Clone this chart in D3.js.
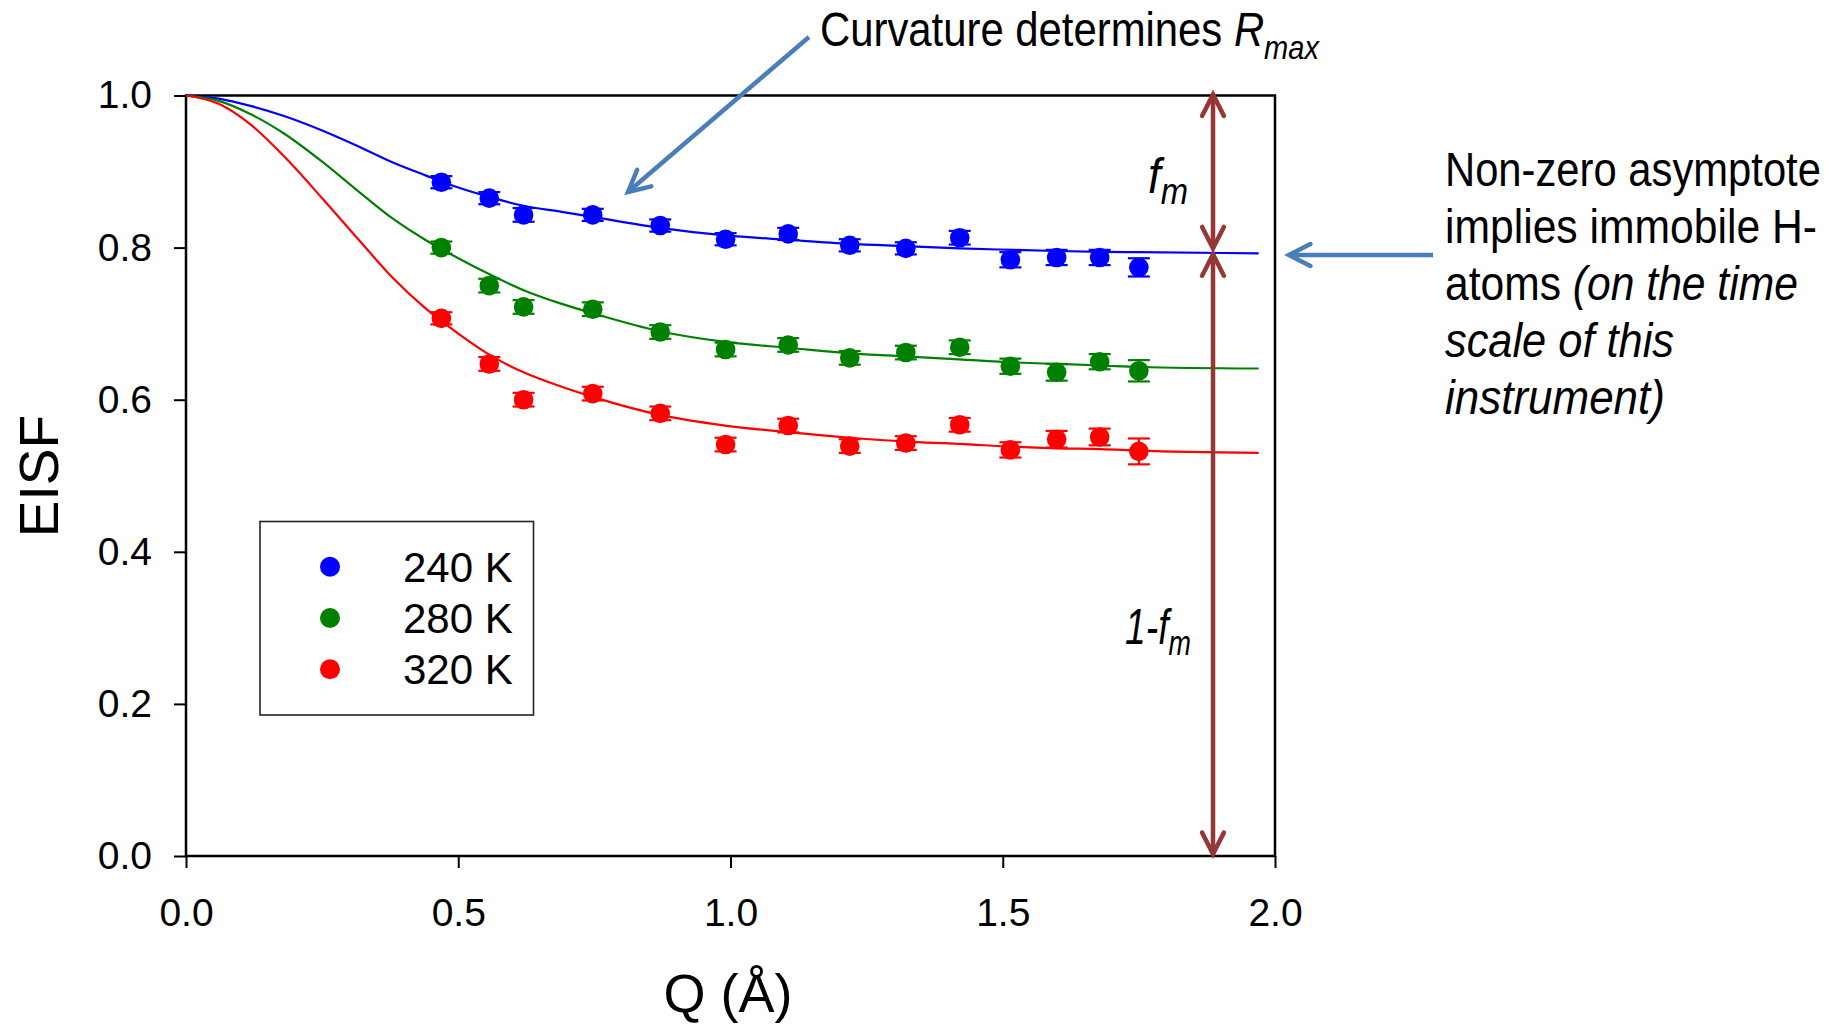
<!DOCTYPE html>
<html><head><meta charset="utf-8">
<script src="https://cdn.jsdelivr.net/npm/d3@7"></script>
<style>
html,body{margin:0;padding:0;background:#fff;}
svg{display:block;font-family:"Liberation Sans",Arial,Helvetica,sans-serif;}
</style>
</head><body>
<svg id="chart" width="1844" height="1026"></svg>
<script>
// ---------- data ----------
const seriesNames  = ["240 K", "280 K", "320 K"];
const seriesColors = ["#0000ff", "#008000", "#ff0000"];

const qValues = [0.469, 0.557, 0.620, 0.747, 0.871, 0.991, 1.106, 1.219, 1.322, 1.421, 1.514, 1.599, 1.678, 1.750];

const eisf240 = [0.886, 0.865, 0.843, 0.843, 0.829, 0.811, 0.818, 0.803, 0.799, 0.813, 0.784, 0.787, 0.787, 0.774];
const eisf280 = [0.800, 0.750, 0.722, 0.719, 0.689, 0.666, 0.672, 0.655, 0.662, 0.669, 0.644, 0.636, 0.650, 0.638];
const eisf320 = [0.707, 0.647, 0.600, 0.608, 0.582, 0.541, 0.566, 0.539, 0.543, 0.567, 0.534, 0.548, 0.551, 0.532];

const err240 = [0.008, 0.008, 0.009, 0.008, 0.008, 0.008, 0.008, 0.008, 0.008, 0.009, 0.010, 0.010, 0.010, 0.012];
const err280 = [0.008, 0.009, 0.009, 0.009, 0.009, 0.009, 0.009, 0.009, 0.009, 0.009, 0.010, 0.011, 0.010, 0.014];
const err320 = [0.008, 0.009, 0.009, 0.009, 0.009, 0.009, 0.009, 0.009, 0.009, 0.009, 0.010, 0.011, 0.011, 0.017];

// fitted curves
const fitQ   = [0, 0.06, 0.12, 0.18, 0.25, 0.32, 0.38, 0.44, 0.50, 0.56, 0.62, 0.69, 0.75, 0.87, 0.99, 1.11, 1.22, 1.32, 1.42, 1.52, 1.60, 1.68, 1.75, 1.97];
const fit240 = [1.000, 0.996, 0.986, 0.973, 0.954, 0.932, 0.912, 0.895, 0.879, 0.866, 0.855, 0.847, 0.840, 0.826, 0.816, 0.810, 0.805, 0.802, 0.799, 0.797, 0.7955, 0.7945, 0.794, 0.7925];
const fit280 = [1.000, 0.993, 0.975, 0.950, 0.913, 0.872, 0.838, 0.810, 0.786, 0.764, 0.744, 0.726, 0.713, 0.690, 0.676, 0.668, 0.661, 0.657, 0.653, 0.649, 0.647, 0.645, 0.643, 0.641];
const fit320 = [1.000, 0.989, 0.961, 0.920, 0.865, 0.808, 0.760, 0.720, 0.687, 0.658, 0.636, 0.617, 0.603, 0.580, 0.566, 0.557, 0.550, 0.545, 0.542, 0.538, 0.536, 0.535, 0.533, 0.530];

const xTicks = [0.0, 0.5, 1.0, 1.5, 2.0];
const yTicks = [0.0, 0.2, 0.4, 0.6, 0.8, 1.0];

const series = [
  {name: seriesNames[0], color: seriesColors[0], vals: eisf240, errs: err240, fit: fit240},
  {name: seriesNames[1], color: seriesColors[1], vals: eisf280, errs: err280, fit: fit280},
  {name: seriesNames[2], color: seriesColors[2], vals: eisf320, errs: err320, fit: fit320}
];

// ---------- layout ----------
const svg = d3.select("#chart");
const L = 186, R = 1275, T = 95.5, B = 856;
const x = d3.scaleLinear().domain([0, 2]).range([L, R]);
const y = d3.scaleLinear().domain([0, 1]).range([B, T]);

// axes
const fmt = d3.format(".1f");
const yAxis = svg.append("g").attr("transform", `translate(${L},0)`)
  .call(d3.axisLeft(y).tickValues(yTicks).tickFormat(fmt).tickSize(12).tickSizeOuter(0).tickPadding(22));
const xAxis = svg.append("g").attr("transform", `translate(0,${B})`)
  .call(d3.axisBottom(x).tickValues(xTicks).tickFormat(fmt).tickSize(12).tickSizeOuter(0).tickPadding(30));
[yAxis, xAxis].forEach(a => {
  a.select(".domain").remove();
  a.selectAll(".tick line").attr("stroke", "#000").attr("stroke-width", 2);
  a.selectAll(".tick text").attr("fill", "#000").attr("font-size", 39)
    .attr("font-family", "'Liberation Sans', Arial, sans-serif");
});

// frame
svg.append("rect").attr("x", L).attr("y", T).attr("width", R - L).attr("height", B - T)
  .attr("fill", "none").attr("stroke", "#000").attr("stroke-width", 2.5);

// fitted curves
const line = d3.line().x((d, i) => x(fitQ[i])).y(d => y(d)).curve(d3.curveMonotoneX);
series.forEach(s => {
  svg.append("path").datum(s.fit).attr("d", line)
    .attr("fill", "none").attr("stroke", s.color).attr("stroke-width", 2.2);
});

// error bars & points
series.forEach(s => {
  const g = svg.append("g");
  s.vals.forEach((v, i) => {
    const cx = x(qValues[i]), e = s.errs[i];
    const y1 = y(v - e), y2 = y(v + e);
    g.append("line").attr("x1", cx).attr("x2", cx).attr("y1", y1).attr("y2", y2)
      .attr("stroke", s.color).attr("stroke-width", 2.2);
    [y1, y2].forEach(yy => g.append("line").attr("x1", cx - 11).attr("x2", cx + 11)
      .attr("y1", yy).attr("y2", yy).attr("stroke", s.color).attr("stroke-width", 2.2));
    g.append("circle").attr("cx", cx).attr("cy", y(v)).attr("r", 9.8).attr("fill", s.color);
  });
});

// axis titles
const fitText = (sel, tx, ty, width) => {
  const w = sel.node().getBBox().width;
  sel.attr("transform", `translate(${tx},${ty}) scale(${width / w},1)`);
};
svg.append("text").attr("x", 728).attr("y", 1012).attr("text-anchor", "middle")
  .attr("font-size", 54).attr("fill", "#000").text("Q (Å)");
svg.append("text").attr("transform", "translate(58,476) rotate(-90)").attr("text-anchor", "middle")
  .attr("font-size", 55).attr("fill", "#000").text("EISF");

// legend
svg.append("rect").attr("x", 260).attr("y", 521.5).attr("width", 273.5).attr("height", 193.5)
  .attr("fill", "#fff").attr("stroke", "#222").attr("stroke-width", 1.6);
series.forEach((s, i) => {
  const cy = 566.7 + i * 51.3;
  svg.append("circle").attr("cx", 330).attr("cy", cy).attr("r", 10).attr("fill", s.color);
  svg.append("text").attr("x", 403).attr("y", cy + 15).attr("font-size", 42).attr("fill", "#000").text(s.name);
});

// arrows
function arrowHead(g, tx, ty, fx, fy, color, w) {
  const dx = tx - fx, dy = ty - fy, len = Math.hypot(dx, dy);
  const ux = dx / len, uy = dy / len, a = 27 * Math.PI / 180, Lh = 24;
  const p = [];
  [a, -a].forEach(t => {
    const rx = ux * Math.cos(t) - uy * Math.sin(t), ry = ux * Math.sin(t) + uy * Math.cos(t);
    p.push([tx - rx * Lh, ty - ry * Lh]);
  });
  g.append("path").attr("d", `M${p[0][0]},${p[0][1]}L${tx},${ty}L${p[1][0]},${p[1][1]}`)
    .attr("fill", "none").attr("stroke", color).attr("stroke-width", w)
    .attr("stroke-linejoin", "miter").attr("stroke-linecap", "round");
}
function arrow(x1, y1, x2, y2, color, w, both) {
  const g = svg.append("g");
  g.append("line").attr("x1", x1).attr("y1", y1).attr("x2", x2).attr("y2", y2)
    .attr("stroke", color).attr("stroke-width", w);
  arrowHead(g, x2, y2, x1, y1, color, w);
  if (both) arrowHead(g, x1, y1, x2, y2, color, w);
}
const annBlue = "#4a7ebb", annRed = "#953735";
const asym = fit240[fit240.length - 1];
arrow(1213, y(1) - 1, 1213, y(asym) - 5, annRed, 4.5, true);
arrow(1213, y(asym) + 1, 1213, y(0) - 2, annRed, 4.5, true);
arrow(809, 37, 628, 192, annBlue, 4.5, false);
arrow(1433, 255, 1289, 255, annBlue, 4.5, false);

// annotation texts
const annSize = 49;
const t1 = svg.append("text").attr("font-size", annSize).attr("fill", "#000");
t1.append("tspan").text("Curvature determines ");
t1.append("tspan").attr("font-style", "italic").text("R");
t1.append("tspan").attr("font-style", "italic").attr("font-size", 34).attr("dy", 13).text("max");
fitText(t1, 820, 46, 500);

const lines = [
  {parts: [["Non-zero asymptote", false]], w: 376},
  {parts: [["implies immobile H-", false]], w: 372},
  {parts: [["atoms ", false], ["(on the time", true]], w: 353},
  {parts: [["scale of this", true]], w: 229},
  {parts: [["instrument)", true]], w: 220}
];
lines.forEach((ln, i) => {
  const t = svg.append("text").attr("font-size", annSize).attr("fill", "#000");
  ln.parts.forEach(p => t.append("tspan").attr("font-style", p[1] ? "italic" : "normal").text(p[0]));
  fitText(t, 1445, 186 + i * 57, ln.w);
});

const fm = svg.append("text").attr("font-size", 50).attr("font-style", "italic").attr("fill", "#000");
fm.append("tspan").text("f");
fm.append("tspan").attr("font-size", 36).attr("dy", 11).text("m");
fitText(fm, 1148, 193, 40);

const fm1 = svg.append("text").attr("font-size", 50).attr("font-style", "italic").attr("fill", "#000");
fm1.append("tspan").text("1-f");
fm1.append("tspan").attr("font-size", 36).attr("dy", 11).text("m");
fitText(fm1, 1125, 644, 66);
</script>
</body></html>
